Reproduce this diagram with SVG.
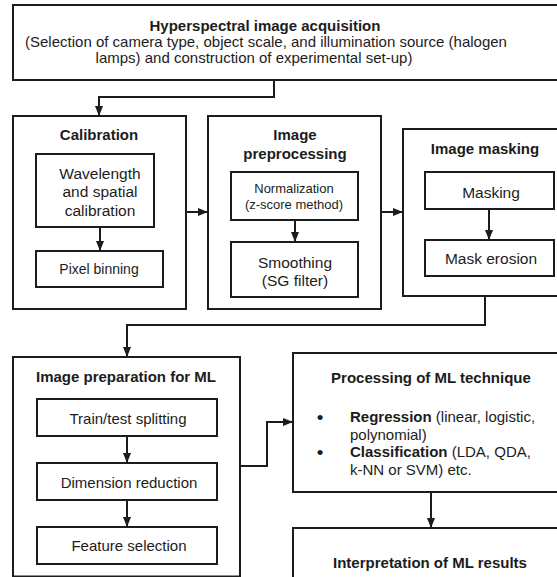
<svg xmlns="http://www.w3.org/2000/svg" width="557" height="577" viewBox="0 0 557 577">
  <style>
    .box { fill: #ffffff; stroke: #1c1c1c; stroke-width: 2; }
    .wire { fill: none; stroke: #1c1c1c; stroke-width: 2; marker-end: url(#head); }
    text { font-family: "Liberation Sans", Arial, sans-serif; fill: #1c1c1c; text-anchor: middle; }
    .title { font-size: 15px; font-weight: bold; }
    .body { font-size: 15.5px; }
    .std { font-size: 15px; }
    .mid { font-size: 14px; }
    .small { font-size: 13px; }
    .list { font-size: 15px; text-anchor: start; }
    .dot { font-size: 19px; text-anchor: middle; }
    .bold { font-weight: bold; }
  </style>
  <defs>
    <marker id="head" markerUnits="userSpaceOnUse" markerWidth="10" markerHeight="10" viewBox="0 0 10 10" refX="10" refY="5" orient="auto">
      <path d="M0,1 L10,5 L0,9 z" fill="#1c1c1c"/>
    </marker>
  </defs>

  <rect width="557" height="577" fill="#ffffff"/>

  <!-- acquisition -->
  <g id="acquisition">
    <rect class="box" x="13" y="5" width="560" height="75"/>
    <text class="title" x="265" y="30.5">Hyperspectral image acquisition</text>
    <text class="std" x="266" y="46.5">(Selection of camera type, object scale, and illumination source (halogen</text>
    <text class="std" x="254" y="62.5">lamps) and construction of experimental set-up)</text>
  </g>

  <!-- calibration -->
  <g id="calibration">
    <rect class="box" x="13" y="116" width="173" height="193"/>
    <text class="title" x="99" y="140">Calibration</text>
    <rect class="box" x="36" y="154" width="118" height="73"/>
    <text class="body" x="100" y="178.5">Wavelength</text>
    <text class="body" x="100" y="197">and spatial</text>
    <text class="body" x="100" y="215.5">calibration</text>
    <rect class="box" x="36" y="251" width="127" height="36"/>
    <text class="mid" x="99" y="274">Pixel binning</text>
  </g>

  <!-- preprocessing -->
  <g id="preprocessing">
    <rect class="box" x="208" y="116" width="173" height="193"/>
    <text class="title" x="295" y="139.5">Image</text>
    <text class="title" x="295" y="158.5">preprocessing</text>
    <rect class="box" x="231" y="172" width="127" height="48"/>
    <text class="small" x="294" y="192.5">Normalization</text>
    <text class="small" x="294" y="208.5">(z-score method)</text>
    <rect class="box" x="231" y="242" width="127" height="55"/>
    <text class="body" x="295" y="267.5">Smoothing</text>
    <text class="body" x="295" y="285.5">(SG filter)</text>
  </g>

  <!-- masking -->
  <g id="masking">
    <rect class="box" x="403" y="129" width="170" height="167"/>
    <text class="title" x="485" y="153.5">Image masking</text>
    <rect class="box" x="425" y="172" width="129" height="37"/>
    <text class="body" x="491" y="197.5">Masking</text>
    <rect class="box" x="425" y="240" width="129" height="36"/>
    <text class="body" x="491" y="263.5">Mask erosion</text>
  </g>

  <!-- preparation for ML -->
  <g id="preparation">
    <rect class="box" x="13" y="357" width="227" height="219.5"/>
    <text class="title" x="126" y="381.5">Image preparation for ML</text>
    <rect class="box" x="37" y="399" width="180" height="37"/>
    <text class="std" x="128" y="423.5">Train/test splitting</text>
    <rect class="box" x="37" y="463" width="180" height="37"/>
    <text class="std" x="129" y="487.5">Dimension reduction</text>
    <rect class="box" x="37" y="527" width="180" height="37"/>
    <text class="std" x="129" y="550.5">Feature selection</text>
  </g>

  <!-- ML technique -->
  <g id="technique">
    <rect class="box" x="293" y="353" width="280" height="139"/>
    <text class="title" x="431" y="383">Processing of ML technique</text>
    <text class="dot" x="320" y="424">•</text>
    <text class="list" x="350" y="422"><tspan class="bold">Regression</tspan> (linear, logistic,</text>
    <text class="list" x="350" y="439.5">polynomial)</text>
    <text class="dot" x="320" y="459">•</text>
    <text class="list" x="350" y="457"><tspan class="bold">Classification</tspan> (LDA, QDA,</text>
    <text class="list" x="350" y="475">k-NN or SVM) etc.</text>
  </g>

  <!-- interpretation -->
  <g id="interpretation">
    <rect class="box" x="293" y="528" width="280" height="60"/>
    <text class="title" x="430" y="568">Interpretation of ML results</text>
  </g>

  <!-- connectors -->
  <g id="connectors">
    <path class="wire" d="M274,80 V97 H99 V116"/>
    <path class="wire" d="M186,212 H208"/>
    <path class="wire" d="M381,212 H403"/>
    <path class="wire" d="M100,227 V251"/>
    <path class="wire" d="M295,220 V242"/>
    <path class="wire" d="M489,209 V240"/>
    <path class="wire" d="M485,296 V325 H127 V357"/>
    <path class="wire" d="M127,436 V463"/>
    <path class="wire" d="M127,500 V527"/>
    <path class="wire" d="M240,466 H267 V422 H293"/>
    <path class="wire" d="M431,492 V528"/>
  </g>
</svg>
